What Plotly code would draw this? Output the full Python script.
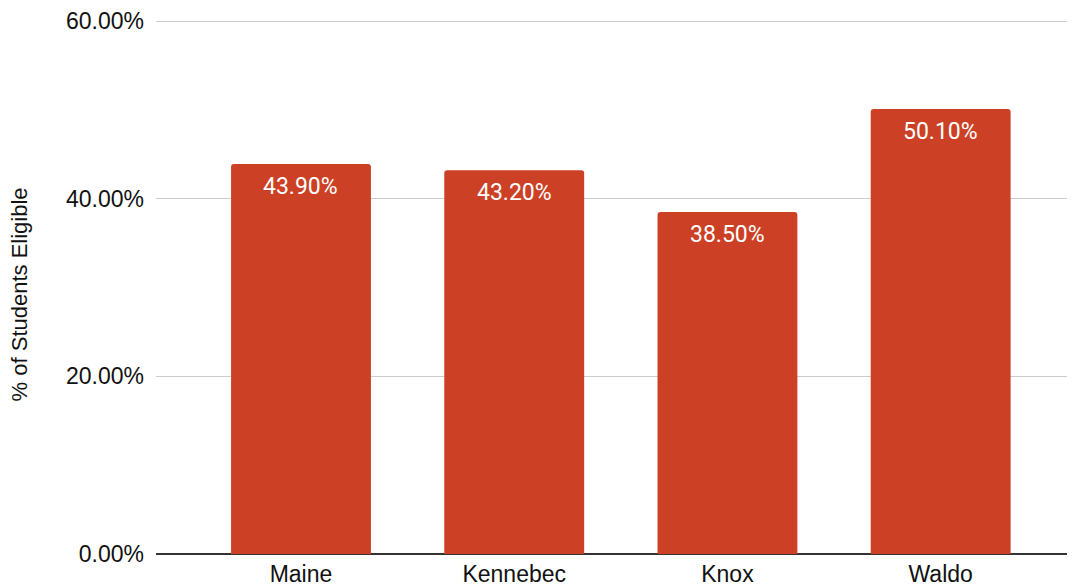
import plotly.graph_objects as go

categories = ["Maine", "Kennebec", "Knox", "Waldo"]
values = [43.9, 43.2, 38.5, 50.1]
y_ticks = [0, 20, 40, 60]
y_tick_labels = ["0.00%", "20.00%", "40.00%", "60.00%"]
y_title = "% of Students Eligible"

bar_color = "#CC4125"

fig = go.Figure()
fig.add_trace(go.Bar(
    x=categories, y=values,
    marker=dict(color=bar_color, cornerradius=3, line=dict(width=0)),
    hoverinfo="skip",
))

for c, v in zip(categories, values):
    fig.add_annotation(
        x=c, y=v, text=f"{v:.2f}%", showarrow=False,
        yanchor="top", yshift=-7,
        font=dict(family="Roboto, Arial", size=23, color="white"),
    )

# y-axis title as rotated annotation
fig.add_annotation(
    xref="paper", yref="paper", x=-0.1475, y=0.4833,
    xanchor="center", yanchor="middle", textangle=-90,
    text=y_title, showarrow=False, borderpad=0,
    font=dict(family="Liberation Sans, Arial, sans-serif", size=22, color="#111111"),
)

# page has an 8px body margin, so the figure is offset by 8px
fig.update_layout(
    width=1067, height=580,
    margin=dict(l=148, r=0, t=8, b=34),
    paper_bgcolor="white", plot_bgcolor="white",
    bargap=0.344,
    showlegend=False,
    font=dict(family="Liberation Sans, Arial, sans-serif", size=23, color="#222222"),
)
fig.update_xaxes(
    range=[-0.68, 3.63],
    showgrid=False, showline=False, zeroline=False,
    ticks="", ticklabelstandoff=4,
    tickfont=dict(size=23, color="#111111"),
    automargin=False,
)
fig.update_yaxes(
    range=[0, 60.563],
    tickvals=y_ticks, ticktext=y_tick_labels,
    showgrid=True, gridcolor="#CCCCCC", gridwidth=1,
    zeroline=True, zerolinecolor="#333333", zerolinewidth=1.5,
    showline=False, ticks="", ticklabelstandoff=11,
    tickfont=dict(size=23, color="#111111"),
    automargin=False,
)

fig.write_html("out.html")
